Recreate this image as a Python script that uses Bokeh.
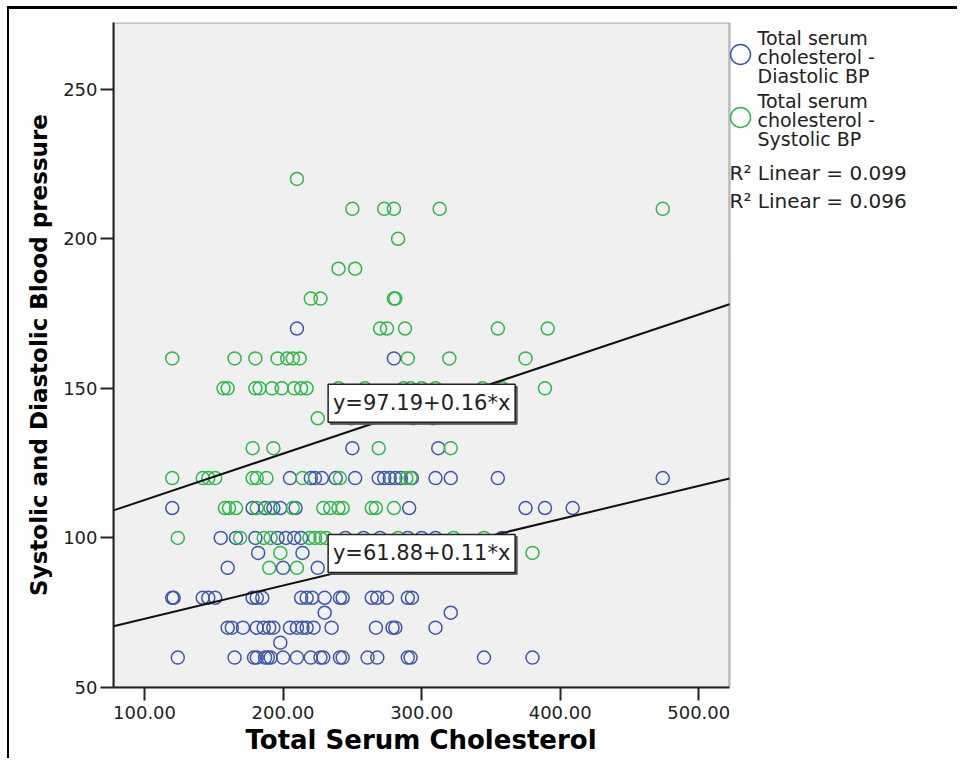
from bokeh.plotting import figure
from bokeh.models import (Range1d, Label, Legend, LegendItem, FixedTicker,
                          PrintfTickFormatter, BoxAnnotation, Title)
from bokeh.embed import file_html
from bokeh.resources import INLINE
from bokeh.core.properties import value

# ---------------- data ----------------
# Diastolic BP vs total serum cholesterol (blue)
dia_chol = [210,
            280,
            250, 312,
            205, 220, 223, 228, 238, 252, 269, 273, 277, 281, 285, 293, 310, 321, 355, 474,
            120, 178, 187, 193, 198, 209, 291, 375, 389, 409,
            155, 166, 180, 196, 202, 208, 213, 245, 258, 270, 290, 300, 310, 358,
            182, 214,
            160, 200, 225, 290, 296, 309, 345,
            120, 121, 142, 146, 151, 178, 181, 185, 213, 217, 221, 230, 241, 243, 264, 268, 275, 290, 293,
            230, 321,
            160, 163, 171, 181, 186, 190, 193, 205, 210, 214, 217, 222, 235, 267, 279, 281, 310,
            198,
            124, 165, 179, 181, 187, 189, 191, 200, 210, 220, 227, 229, 241, 243, 261, 268, 290, 292, 345, 380]
dia_bp = ([170] + [160] + [130] * 2 + [120] * 16 + [110] * 10 + [100] * 14 + [95] * 2 +
          [90] * 7 + [80] * 19 + [75] * 2 + [70] * 17 + [65] + [60] * 20)

# Systolic BP vs total serum cholesterol (green)
sys_chol = [210,
            250, 273, 280, 313, 474,
            283,
            240, 252,
            220, 227, 280, 281,
            270, 275, 288, 355, 391,
            120, 165, 180, 196, 203, 207, 212, 290, 320, 375,
            157, 160, 180, 183, 192, 199, 208, 213, 217, 240, 259, 287, 292, 300, 310, 344, 358, 389,
            225, 249, 294, 308,
            178, 193, 269, 321,
            120, 142, 146, 151, 178, 181, 188, 214, 241, 289, 292,
            158, 161, 166, 181, 191, 207, 229, 234, 240, 243, 264, 267, 280,
            124, 169, 186, 191, 219, 223, 227, 231, 283, 323, 345,
            198, 380,
            190, 210, 267]
sys_bp = ([220] + [210] * 5 + [200] + [190] * 2 + [180] * 4 + [170] * 5 + [160] * 10 +
          [150] * 18 + [140] * 4 + [130] * 4 + [120] * 11 + [110] * 13 + [100] * 11 +
          [95] * 2 + [90] * 3)

# fit lines (intercept, slope) and their printed equations
fit_sys = (97.19, 0.155)
fit_dia = (61.88, 0.111)
eq_sys = "y=97.19+0.16*x"
eq_dia = "y=61.88+0.11*x"
r2_texts = ["R\u00b2 Linear = 0.099", "R\u00b2 Linear = 0.096"]
series_names = ["Total serum\ncholesterol -\nDiastolic BP",
                "Total serum\ncholesterol -\nSystolic BP"]

x_ticks = [100, 200, 300, 400, 500]
y_ticks = [50, 100, 150, 200, 250]
x_title = "Total Serum Cholesterol"
y_title = "Systolic and Diastolic Blood pressure"

# ---------------- styling / layout ----------------
BLUE = "#3E58AC"
GREEN = "#2EB848"
FONT = "DejaVu Sans"
W, H = 950, 752
ML, MT, MB = 104, 13, 74
GRAY_W = 616                 # width of the grey plot area in px
FRAME_RIGHT = 940
MR = W - FRAME_RIGHT
X0, X1 = 77.6, 522.2         # axis extent of the grey area
Y0, Y1 = 50, 272.3
px_x = GRAY_W / (X1 - X0)
X_END = X0 + (FRAME_RIGHT - ML) / px_x
FH = H - MT - MB
px_y = FH / (Y1 - Y0)
PAGE_LEFT, PAGE_BOTTOM = 113, 687   # page pixel position of the grey area's lower-left


def dx(px):   # page px -> data x
    return X0 + (px - PAGE_LEFT) / px_x


def dy(py):   # page px -> data y
    return Y0 + (PAGE_BOTTOM - py) / px_y


p = figure(width=W, height=H, x_range=Range1d(X0, X_END), y_range=Range1d(Y0, Y1),
           output_backend="svg", toolbar_location=None,
           min_border_left=ML, min_border_right=MR, min_border_top=MT, min_border_bottom=MB,
           background_fill_color="white", border_fill_color="white",
           styles={"margin-left": "7px", "margin-top": "6px",
                   "border-left": "2px solid #000", "border-top": "3px solid #000"})
p.outline_line_color = None
p.xgrid.visible = False
p.ygrid.visible = False

# grey plot area with its frame
p.add_layout(BoxAnnotation(right=X1, fill_color="#F0F0F0", fill_alpha=1,
                           line_color="#333333", line_width=2.5, level="underlay"))

for ax in (p.xaxis[0], p.yaxis[0]):
    ax.axis_line_color = "#222"
    ax.axis_line_width = 2
    ax.major_tick_out = 13
    ax.major_tick_in = 0
    ax.major_tick_line_width = 2
    ax.major_tick_line_color = "#222"
    ax.minor_tick_line_color = None
    ax.major_label_text_font = FONT
    ax.major_label_text_font_size = "18px"
    ax.major_label_text_color = "#222"
    ax.axis_label_text_font = FONT
    ax.axis_label_text_font_style = "bold"
    ax.axis_label_text_color = "black"

p.xaxis.bounds = (X0, X1)
p.xaxis.ticker = FixedTicker(ticks=x_ticks)
p.xaxis.formatter = PrintfTickFormatter(format="%.2f")
p.xaxis.major_label_standoff = 5

p.yaxis.ticker = FixedTicker(ticks=y_ticks)
p.yaxis.formatter = PrintfTickFormatter(format="%d")
p.yaxis.major_label_standoff = 3
p.yaxis.axis_label = y_title
p.yaxis.axis_label_text_font_size = "23px"
p.yaxis.axis_label_standoff = 8

# x-axis title, centred under the grey area (not under the whole frame)
p.add_layout(Title(text=x_title, align="left", offset=132, standoff=2,
                   text_font=FONT, text_font_style="bold", text_font_size="26px",
                   text_color="black"), "below")

# points
r_dia = p.scatter(dia_chol, dia_bp, marker="circle", size=13, fill_color=None,
                  line_color=BLUE, line_width=1.5)
r_sys = p.scatter(sys_chol, sys_bp, marker="circle", size=13, fill_color=None,
                  line_color=GREEN, line_width=1.5)

# fit lines over the grey area only
for b, m in (fit_sys, fit_dia):
    p.line([X0, X1], [b + m * X0, b + m * X1], line_color="#111", line_width=2)

# equation boxes
for txt, yc in ((eq_sys, 145.0), (eq_dia, 94.8)):
    xc = 300.0
    p.rect(x=xc + 2 / px_x, y=yc - 2 / px_y, width=187, height=38,
           width_units="screen", height_units="screen",
           fill_color="#555", line_color="#555")
    p.rect(x=xc, y=yc, width=187, height=38, width_units="screen", height_units="screen",
           fill_color="white", line_color="#222", line_width=1.5)
    p.text(x=[xc], y=[yc], text=[txt], text_align="center", text_baseline="middle",
           text_font=value(FONT), text_font_size="21px", text_color="#222")

# legend keys (circles); their texts are written line by line below
legend = Legend(items=[LegendItem(label=" ", renderers=[r_dia]),
                       LegendItem(label=" ", renderers=[r_sys])],
                location=(602, 545), glyph_width=50, glyph_height=50,
                label_standoff=0, padding=0, margin=0, spacing=13,
                border_line_color=None, background_fill_alpha=0,
                label_text_font=FONT, label_text_font_size="12px")
p.add_layout(legend)

for name, top_line in zip(series_names, (37, 100)):
    for k, line in enumerate(name.split("\n")):
        p.add_layout(Label(x=dx(757), y=dy(top_line + 19 * k), text=line,
                           text_align="left", text_baseline="middle",
                           text_font=FONT, text_font_size="19px", text_color="#222"))

# R^2 labels
for txt, py in zip(r2_texts, (172, 200)):
    p.add_layout(Label(x=X1, y=dy(py), text=txt, text_align="left", text_baseline="middle",
                       text_font=FONT, text_font_size="20px", text_color="#222"))

open("out.html", "w").write(file_html(p, INLINE))
